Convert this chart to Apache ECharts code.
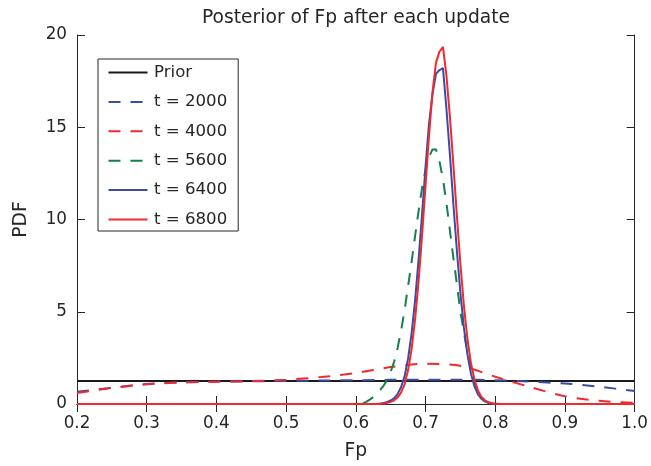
<!DOCTYPE html>
<html>
<head>
<meta charset="utf-8">
<script src="https://cdn.jsdelivr.net/npm/echarts@6/dist/echarts.min.js"></script>
<style>
html,body{margin:0;padding:0;background:#fff;}
#chart{width:651px;height:466px;}
</style>
</head>
<body>
<div id="chart"></div>
<script>
// ---- data ----
const seriesNames = ['Prior', 't = 2000', 't = 4000', 't = 5600', 't = 6400', 't = 6800'];

const fpPrior = [0.20, 1.00];
const pdfPrior = [1.25, 1.25];

const fpBroad = [0.20, 0.25, 0.30, 0.35, 0.40, 0.45, 0.50, 0.55, 0.60, 0.65, 0.70, 0.75, 0.80, 0.85, 0.90, 0.95, 1.00];
const pdfT2000 = [0.66, 0.88, 1.08, 1.17, 1.21, 1.23, 1.25, 1.27, 1.29, 1.31, 1.32, 1.32, 1.29, 1.21, 1.11, 0.93, 0.70];
const pdfT4000 = [0.60, 0.87, 1.07, 1.17, 1.21, 1.24, 1.32, 1.46, 1.68, 2.00, 2.18, 2.07, 1.48, 0.92, 0.42, 0.17, 0.06];

const fpPeak = [0.20,
  0.600, 0.605, 0.610, 0.615, 0.620, 0.625, 0.630, 0.635, 0.640, 0.645,
  0.650, 0.655, 0.660, 0.665, 0.670, 0.675, 0.680, 0.685, 0.690, 0.695,
  0.700, 0.705, 0.710, 0.715, 0.720, 0.725, 0.730, 0.735, 0.740, 0.745,
  0.750, 0.755, 0.760, 0.765, 0.770, 0.775, 0.780, 0.785, 0.790, 0.795,
  0.800, 0.805, 0.810, 0.815, 0.820,
  1.00];
const pdfT5600 = [0,
  0, 0, 0.03, 0.12, 0.24, 0.38, 0.55, 0.76, 1.00, 1.32,
  1.75, 2.30, 3.05, 4.00, 5.10, 6.40, 7.70, 9.10, 10.45, 11.70,
  12.70, 13.40, 13.80, 13.80, 13.15, 12.20, 10.90, 9.40, 7.90, 6.50,
  5.00, 3.90, 2.80, 1.90, 1.20, 0.70, 0.38, 0.18, 0.08, 0.03,
  0.01, 0, 0, 0, 0,
  0];
const pdfT6400 = [0,
  0, 0, 0, 0, 0, 0, 0.004, 0.03, 0.06, 0.11,
  0.19, 0.32, 0.55, 0.92, 1.51, 2.47, 3.83, 5.62, 7.81, 10.30,
  12.86, 15.20, 16.80, 17.90, 18.10, 18.20, 16.00, 13.50, 10.80, 8.29,
  6.03, 4.15, 2.71, 1.67, 0.98, 0.54, 0.29, 0.14, 0.067, 0.03,
  0.013, 0.005, 0.002, 0, 0,
  0];
const pdfT6800 = [0,
  0, 0, 0, 0, 0, 0, 0, 0.005, 0.03, 0.06,
  0.11, 0.20, 0.36, 0.63, 1.07, 1.84, 2.98, 4.58, 6.64, 9.12,
  11.85, 14.55, 16.91, 18.50, 19.10, 19.35, 17.80, 15.56, 12.95, 10.19,
  7.60, 5.35, 3.56, 2.25, 1.34, 0.75, 0.40, 0.20, 0.097, 0.044,
  0.019, 0.008, 0.003, 0, 0,
  0];

const xMin = 0.2, xMax = 1.0, xStep = 0.1;
const yMin = 0, yMax = 20, yStep = 5;

// ---- styling ----
const FONT = 'DejaVu Sans';
const INK = '#262626';
const BLACK = '#1a1a1a';
const BLUE = '#3a4ca6';
const RED = '#ee2a2e';
const GREEN = '#16804a';
const DASH = [12, 10];

function pairs(xs, ys) { return xs.map((x, i) => [x, ys[i]]); }

const chart = echarts.init(document.getElementById('chart'), null, {renderer: 'canvas'});

const axisCommon = {
  axisLine: {show: true, lineStyle: {color: INK, width: 1}},
  axisTick: {show: true, inside: true, length: 8, lineStyle: {color: INK, width: 1}},
  splitLine: {show: false}
};

const option = {
  animation: false,
  backgroundColor: '#fff',
  title: {
    text: 'Posterior of Fp after each update',
    left: 356, top: 9, textAlign: 'center', padding: 0,
    textStyle: {fontFamily: FONT, fontSize: 18.7, fontWeight: 'normal', color: INK}
  },
  legend: {
    left: 98, top: 59, orient: 'vertical',
    padding: [5, 11, 3, 9.5],
    itemWidth: 39, itemHeight: 14, itemGap: 12.4,
    borderColor: INK, borderWidth: 1, backgroundColor: '#fff',
    itemStyle: {opacity: 0},
    textStyle: {fontFamily: FONT, fontSize: 16.6, color: INK, padding: [0, 0, 0, 1.5]},
    data: seriesNames
  },
  grid: {left: 77, right: 16, top: 35, bottom: 59, containLabel: false},
  xAxis: [
    Object.assign({
      type: 'value', position: 'bottom', min: xMin, max: xMax, interval: xStep,
      name: 'Fp', nameLocation: 'middle', nameGap: 38,
      nameTextStyle: {fontFamily: FONT, fontSize: 18.7, color: INK},
      axisLabel: {fontFamily: FONT, fontSize: 16.8, color: INK, margin: 11,
        formatter: v => v.toFixed(1)}
    }, axisCommon),
    Object.assign({
      type: 'value', position: 'top', min: xMin, max: xMax, interval: xStep,
      axisLabel: {show: false}
    }, axisCommon)
  ],
  yAxis: [
    Object.assign({
      type: 'value', position: 'left', min: yMin, max: yMax, interval: yStep,
      name: 'PDF', nameLocation: 'middle', nameGap: 46, nameRotate: 90,
      nameTextStyle: {fontFamily: FONT, fontSize: 18.7, color: INK},
      axisLabel: {fontFamily: FONT, fontSize: 16.8, color: INK, margin: 10}
    }, axisCommon),
    Object.assign({
      type: 'value', position: 'right', min: yMin, max: yMax, interval: yStep,
      axisLabel: {show: false}
    }, axisCommon)
  ],
  series: [
    {name: seriesNames[0], type: 'line', data: pairs(fpPrior, pdfPrior), symbol: 'none',
      lineStyle: {color: BLACK, width: 2}, itemStyle: {color: BLACK}},
    {name: seriesNames[1], type: 'line', data: pairs(fpBroad, pdfT2000), symbol: 'none', smooth: 0.3,
      lineStyle: {color: BLUE, width: 2, type: DASH}, itemStyle: {color: BLUE}},
    {name: seriesNames[2], type: 'line', data: pairs(fpBroad, pdfT4000), symbol: 'none', smooth: 0.3,
      lineStyle: {color: RED, width: 2, type: DASH}, itemStyle: {color: RED}},
    {name: seriesNames[3], type: 'line', data: pairs(fpPeak, pdfT5600), symbol: 'none',
      lineStyle: {color: GREEN, width: 2, type: DASH}, itemStyle: {color: GREEN}},
    {name: seriesNames[4], type: 'line', data: pairs(fpPeak, pdfT6400), symbol: 'none',
      lineStyle: {color: BLUE, width: 2}, itemStyle: {color: BLUE}},
    {name: seriesNames[5], type: 'line', data: pairs(fpPeak, pdfT6800), symbol: 'none',
      lineStyle: {color: RED, width: 2}, itemStyle: {color: RED}}
  ]
};
chart.setOption(option);
</script>
</body>
</html>
